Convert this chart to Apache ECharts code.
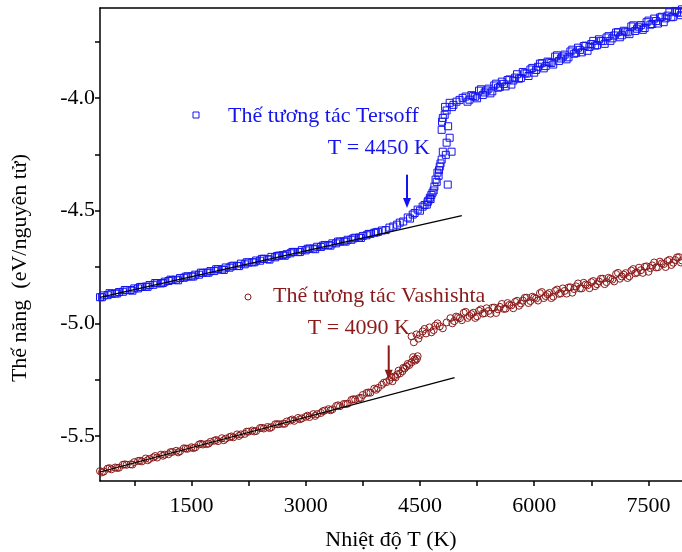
<!DOCTYPE html>
<html>
<head>
<meta charset="utf-8">
<script src="https://cdn.jsdelivr.net/npm/echarts@6/dist/echarts.min.js"></script>
<style>
  html, body { margin: 0; padding: 0; background: #fff; }
  #chart { width: 682px; height: 552px; }
</style>
</head>
<body>
<div id="chart"></div>
<script>
// Thế năng theo nhiệt độ: [T (K), E (eV/nguyên tử)]
const tersoffData = [
  [300, -4.884], [350, -4.876], [400, -4.875], [450, -4.869], [500, -4.868], [550, -4.861],
  [600, -4.860], [650, -4.853], [700, -4.852], [750, -4.845], [800, -4.845], [850, -4.838],
  [900, -4.837], [950, -4.830], [1000, -4.829], [1050, -4.822], [1100, -4.823], [1150, -4.815],
  [1200, -4.812], [1250, -4.808], [1300, -4.806], [1350, -4.799], [1400, -4.798], [1450, -4.791],
  [1500, -4.792], [1550, -4.784], [1600, -4.784], [1650, -4.776], [1700, -4.775], [1750, -4.768],
  [1800, -4.768], [1850, -4.760], [1900, -4.761], [1950, -4.752], [2000, -4.753], [2050, -4.744],
  [2100, -4.745], [2150, -4.735], [2200, -4.738], [2250, -4.730], [2300, -4.729], [2350, -4.721],
  [2400, -4.722], [2450, -4.713], [2500, -4.715], [2550, -4.705], [2600, -4.707], [2650, -4.699],
  [2700, -4.697], [2750, -4.693], [2800, -4.689], [2850, -4.683], [2900, -4.684], [2950, -4.675],
  [3000, -4.676], [3050, -4.668], [3100, -4.668], [3150, -4.660], [3200, -4.661], [3250, -4.652],
  [3300, -4.653], [3350, -4.645], [3400, -4.645], [3450, -4.637], [3500, -4.636], [3550, -4.629],
  [3600, -4.629], [3650, -4.620], [3700, -4.619], [3750, -4.612], [3800, -4.609], [3850, -4.603],
  [3900, -4.598], [3950, -4.594], [4000, -4.588],
  [325, -4.884], [425, -4.866], [525, -4.867], [625, -4.852], [725, -4.855], [825, -4.839],
  [925, -4.838], [1025, -4.821], [1125, -4.821], [1225, -4.806], [1325, -4.809], [1425, -4.793],
  [1525, -4.792], [1625, -4.775], [1725, -4.775], [1825, -4.760], [1925, -4.763], [2025, -4.747],
  [2125, -4.746], [2225, -4.729], [2325, -4.729], [2425, -4.714], [2525, -4.717], [2625, -4.701],
  [2725, -4.700], [2825, -4.683], [2925, -4.683], [3025, -4.669], [3125, -4.671], [3225, -4.655],
  [3325, -4.655], [3425, -4.637], [3525, -4.637], [3625, -4.623], [3725, -4.621], [3825, -4.603],
  [3925, -4.596],
  // vùng chuyển pha
  [4050, -4.586], [4100, -4.575], [4150, -4.570], [4200, -4.562], [4235, -4.553], [4280, -4.548],
  [4340, -4.530], [4370, -4.535], [4405, -4.517], [4430, -4.510], [4470, -4.495], [4500, -4.500],
  [4535, -4.482], [4560, -4.475], [4590, -4.473], [4600, -4.462], [4610, -4.455], [4630, -4.442],
  [4640, -4.448], [4650, -4.430], [4665, -4.420], [4680, -4.410], [4690, -4.393], [4705, -4.362],
  [4720, -4.372], [4730, -4.331], [4745, -4.345], [4750, -4.320], [4760, -4.304], [4770, -4.290],
  [4785, -4.273], [4800, -4.238], [4840, -4.252], [4865, -4.384], [4850, -4.198], [4890, -4.176],
  [4915, -4.238], [4870, -4.125], [4785, -4.141], [4790, -4.105], [4800, -4.088], [4825, -4.074],
  [4850, -4.055], [4830, -4.039], [4890, -4.021], [4920, -4.040], [4940, -4.030], [4980, -4.016],
  [5020, -4.008], [5060, -3.999],
  // pha lỏng
  [5100, -3.993], [5150, -4.007], [5200, -3.991], [5250, -4.001], [5300, -3.961], [5350, -3.975],
  [5400, -3.958], [5450, -3.970], [5500, -3.936], [5550, -3.950], [5600, -3.937], [5650, -3.920],
  [5700, -3.940], [5750, -3.909], [5800, -3.914], [5850, -3.884], [5900, -3.891], [5950, -3.873],
  [6000, -3.887], [6050, -3.861], [6100, -3.845], [6150, -3.858], [6200, -3.841], [6250, -3.851],
  [6300, -3.810], [6350, -3.824], [6400, -3.807], [6450, -3.819], [6500, -3.785], [6550, -3.799],
  [6600, -3.786], [6650, -3.769], [6700, -3.790], [6750, -3.760], [6800, -3.767], [6850, -3.739],
  [6900, -3.747], [6950, -3.731], [7000, -3.746], [7050, -3.722], [7100, -3.707], [7150, -3.721],
  [7200, -3.705], [7250, -3.716], [7300, -3.677], [7350, -3.692], [7400, -3.676], [7450, -3.689],
  [7500, -3.656], [7550, -3.671], [7600, -3.658], [7650, -3.642], [7700, -3.663], [7750, -3.634],
  [7800, -3.641], [7850, -3.613], [7900, -3.621], [7940, -3.606],
  [5125, -4.016], [5175, -3.987], [5225, -3.994], [5275, -3.967], [5325, -3.986], [5375, -3.966],
  [5425, -3.979], [5475, -3.944], [5525, -3.954], [5575, -3.927], [5625, -3.948], [5675, -3.917],
  [5725, -3.922], [5775, -3.894], [5825, -3.911], [5875, -3.890], [5925, -3.902], [5975, -3.866],
  [6025, -3.875], [6075, -3.847], [6125, -3.868], [6175, -3.838], [6225, -3.844], [6275, -3.816],
  [6325, -3.835], [6375, -3.815], [6425, -3.828], [6475, -3.793], [6525, -3.803], [6575, -3.776],
  [6625, -3.797], [6675, -3.767], [6725, -3.773], [6775, -3.746], [6825, -3.765], [6875, -3.746],
  [6925, -3.759], [6975, -3.725], [7025, -3.735], [7075, -3.709], [7125, -3.730], [7175, -3.701],
  [7225, -3.708], [7275, -3.682], [7325, -3.702], [7375, -3.683], [7425, -3.697], [7475, -3.663],
  [7525, -3.674], [7575, -3.647], [7625, -3.669], [7675, -3.639], [7725, -3.646], [7775, -3.619],
  [7825, -3.639], [7875, -3.619], [7925, -3.632]
]

const vashishtaData = [
  [300, -5.656], [350, -5.658], [400, -5.645], [450, -5.648], [500, -5.640], [550, -5.641],
  [600, -5.628], [650, -5.628], [700, -5.626], [750, -5.616], [800, -5.611], [850, -5.613],
  [900, -5.600], [950, -5.602], [1000, -5.595], [1050, -5.596], [1100, -5.583], [1150, -5.583],
  [1200, -5.581], [1250, -5.571], [1300, -5.566], [1350, -5.568], [1400, -5.555], [1450, -5.557],
  [1500, -5.550], [1550, -5.551], [1600, -5.538], [1650, -5.538], [1700, -5.536], [1750, -5.526],
  [1800, -5.521], [1850, -5.523], [1900, -5.510], [1950, -5.512], [2000, -5.505], [2050, -5.506],
  [2100, -5.493], [2150, -5.493], [2200, -5.491], [2250, -5.481], [2300, -5.476], [2350, -5.478],
  [2400, -5.465], [2450, -5.467], [2500, -5.460], [2550, -5.461], [2600, -5.448], [2650, -5.448],
  [2700, -5.446], [2750, -5.436], [2800, -5.431], [2850, -5.433], [2900, -5.420], [2950, -5.422],
  [3000, -5.415], [3050, -5.416], [3100, -5.403], [3150, -5.403], [3200, -5.398], [3250, -5.387],
  [3300, -5.381], [3350, -5.382], [3400, -5.367], [3450, -5.368], [3500, -5.358], [3550, -5.357],
  [3600, -5.340], [3650, -5.338], [3700, -5.332], [3750, -5.318], [3800, -5.309], [3850, -5.308],
  [3900, -5.290], [3950, -5.287], [4000, -5.273],
  [325, -5.662], [425, -5.643], [525, -5.642], [625, -5.626], [725, -5.627], [825, -5.610],
  [925, -5.608], [1025, -5.589], [1125, -5.588], [1225, -5.572], [1325, -5.573], [1425, -5.556],
  [1525, -5.554], [1625, -5.535], [1725, -5.534], [1825, -5.518], [1925, -5.519], [2025, -5.502],
  [2125, -5.500], [2225, -5.481], [2325, -5.480], [2425, -5.464], [2525, -5.465], [2625, -5.448],
  [2725, -5.446], [2825, -5.427], [2925, -5.426], [3025, -5.410], [3125, -5.411], [3225, -5.390],
  [3325, -5.386], [3425, -5.364], [3525, -5.358], [3625, -5.337], [3725, -5.331], [3825, -5.307],
  [3925, -5.295], [4025, -5.264],
  // vùng chuyển pha
  [4060, -5.261], [4100, -5.252], [4120, -5.240], [4140, -5.257], [4160, -5.236], [4180, -5.240],
  [4205, -5.226], [4220, -5.210], [4240, -5.222], [4270, -5.213], [4280, -5.198], [4300, -5.200],
  [4325, -5.191], [4340, -5.180], [4360, -5.185], [4390, -5.173], [4410, -5.150], [4430, -5.160],
  [4440, -5.165], [4460, -5.158], [4470, -5.146],
  [4390, -5.058], [4420, -5.084], [4455, -5.049], [4480, -5.068], [4500, -5.052], [4535, -5.036],
  [4560, -5.025], [4580, -5.045], [4625, -5.018], [4650, -5.040], [4680, -5.030], [4700, -5.010],
  [4730, -5.000], [4760, -5.013], [4800, -5.022], [4850, -4.996],
  // pha lỏng
  [4900, -4.977], [4950, -4.990], [5000, -4.973], [5050, -4.986], [5100, -4.949], [5150, -4.967],
  [5200, -4.953], [5250, -4.969], [5300, -4.938], [5350, -4.955], [5400, -4.945], [5450, -4.931],
  [5500, -4.954], [5550, -4.927], [5600, -4.936], [5650, -4.910], [5700, -4.920], [5750, -4.905],
  [5800, -4.922], [5850, -4.899], [5900, -4.886], [5950, -4.901], [6000, -4.886], [6050, -4.899],
  [6100, -4.861], [6150, -4.879], [6200, -4.865], [6250, -4.881], [6300, -4.850], [6350, -4.867],
  [6400, -4.856], [6450, -4.841], [6500, -4.864], [6550, -4.836], [6600, -4.845], [6650, -4.820],
  [6700, -4.831], [6750, -4.817], [6800, -4.835], [6850, -4.814], [6900, -4.802], [6950, -4.817],
  [7000, -4.802], [7050, -4.814], [7100, -4.776], [7150, -4.792], [7200, -4.777], [7250, -4.791],
  [7300, -4.759], [7350, -4.775], [7400, -4.764], [7450, -4.749], [7500, -4.771], [7550, -4.743],
  [7600, -4.752], [7650, -4.726], [7700, -4.737], [7750, -4.723], [7800, -4.741], [7850, -4.719],
  [7900, -4.706], [7940, -4.721],
  [4925, -5.000], [4975, -4.970], [5025, -4.977], [5075, -4.953], [5125, -4.976], [5175, -4.959],
  [5225, -4.976], [5275, -4.944], [5325, -4.957], [5375, -4.933], [5425, -4.957], [5475, -4.930],
  [5525, -4.938], [5575, -4.914], [5625, -4.935], [5675, -4.918], [5725, -4.933], [5775, -4.900],
  [5825, -4.912], [5875, -4.887], [5925, -4.910], [5975, -4.882], [6025, -4.890], [6075, -4.866],
  [6125, -4.888], [6175, -4.871], [6225, -4.888], [6275, -4.856], [6325, -4.869], [6375, -4.845],
  [6425, -4.868], [6475, -4.840], [6525, -4.848], [6575, -4.823], [6625, -4.845], [6675, -4.828],
  [6725, -4.844], [6775, -4.812], [6825, -4.826], [6875, -4.802], [6925, -4.826], [6975, -4.798],
  [7025, -4.806], [7075, -4.781], [7125, -4.802], [7175, -4.784], [7225, -4.799], [7275, -4.766],
  [7325, -4.778], [7375, -4.753], [7425, -4.776], [7475, -4.747], [7525, -4.755], [7575, -4.730],
  [7625, -4.751], [7675, -4.734], [7725, -4.750], [7775, -4.718], [7825, -4.731], [7875, -4.707],
  [7925, -4.730]
]

// đường khớp tuyến tính pha rắn
const tersoffFit = [[300, -4.885], [5050, -4.522]]
const vashishtaFit = [[300, -5.660], [4955, -5.241]]

// mũi tên chỉ nhiệt độ nóng chảy: [điểm đầu, mũi nhọn]
const tersoffArrow = [[4330, -4.340], [4330, -4.488]]
const vashishtaArrow = [[4090, -5.098], [4090, -5.250]]

const xLabels = [1500, 3000, 4500, 6000, 7500]
const xTicks = [750, 1500, 2250, 3000, 3750, 4500, 5250, 6000, 6750, 7500]
const yLabels = [-5.5, -5.0, -4.5, -4.0]
const yTicks = [-5.5, -5.25, -5.0, -4.75, -4.5, -4.25, -4.0, -3.75]

const BLUE = '#1414f0'
const RED = '#8b1a1a'
const FONT = 'Liberation Serif'

const chart = echarts.init(document.getElementById('chart'))

const axisLine = { show: true, onZero: false, lineStyle: { color: '#000', width: 1.5 } }
const labelStyle = { color: '#000', fontFamily: FONT, fontSize: 22 }

chart.setOption({
  animation: false,
  backgroundColor: '#fff',
  grid: { left: 100, right: 0, top: 8, bottom: 71, outerBoundsMode: 'none', containLabel: false },
  xAxis: [
    {
      type: 'value',
      min: 300,
      max: 7940,
      axisLine,
      splitLine: { show: false },
      name: 'Nhiệt độ T (K)',
      nameLocation: 'middle',
      nameGap: 48,
      nameTextStyle: { color: '#000', fontFamily: FONT, fontSize: 22 },
      axisTick: { show: true, inside: false, length: 5, customValues: xTicks, lineStyle: { color: '#000', width: 1.5 } },
      axisLabel: { ...labelStyle, margin: 14, customValues: xLabels, formatter: v => String(v) }
    },
    {
      type: 'value',
      position: 'top',
      min: 300,
      max: 7940,
      axisLine,
      axisTick: { show: false },
      axisLabel: { show: false },
      splitLine: { show: false }
    }
  ],
  yAxis: {
    type: 'value',
    min: -5.7,
    max: -3.6,
    axisLine,
    splitLine: { show: false },
    axisTick: { show: true, inside: false, length: 5, customValues: yTicks, lineStyle: { color: '#000', width: 1.5 } },
    axisLabel: { ...labelStyle, margin: 5, customValues: yLabels, formatter: v => v.toFixed(1) }
  },
  series: [
    {
      name: 'Thế tương tác Tersoff',
      type: 'scatter',
      data: tersoffData,
      symbol: 'rect',
      symbolSize: 7,
      itemStyle: { color: 'rgba(255,255,255,0)', borderColor: BLUE, borderWidth: 1, opacity: 1 }
    },
    {
      name: 'Thế tương tác Vashishta',
      type: 'scatter',
      data: vashishtaData,
      symbol: 'circle',
      symbolSize: 7,
      itemStyle: { color: 'rgba(255,255,255,0)', borderColor: RED, borderWidth: 1, opacity: 1 }
    },
    {
      type: 'line',
      data: tersoffFit,
      symbol: 'none',
      z: 5,
      lineStyle: { color: '#000', width: 1.2 }
    },
    {
      type: 'line',
      data: vashishtaFit,
      symbol: 'none',
      z: 5,
      lineStyle: { color: '#000', width: 1.2 }
    }
  ],
  graphic: [
    {
      type: 'text', x: 20, y: 268, rotation: Math.PI / 2,
      style: { text: 'Thế năng  (eV/nguyên tử)', fill: '#000', font: `22px "${FONT}"`, align: 'center', verticalAlign: 'middle' }
    },
    {
      type: 'rect', x: 193, y: 112,
      shape: { width: 6, height: 6 },
      style: { fill: 'none', stroke: BLUE, lineWidth: 1 }
    },
    {
      type: 'text', x: 228, y: 116,
      style: { text: 'Thế tương tác Tersoff', fill: BLUE, font: `22px "${FONT}"`, verticalAlign: 'middle' }
    },
    {
      type: 'text', x: 430, y: 148,
      style: { text: 'T = 4450 K', fill: BLUE, font: `22px "${FONT}"`, align: 'right', verticalAlign: 'middle' }
    },
    {
      type: 'circle', x: 248, y: 297,
      shape: { r: 3 },
      style: { fill: 'none', stroke: RED, lineWidth: 1 }
    },
    {
      type: 'text', x: 273, y: 296,
      style: { text: 'Thế tương tác Vashishta', fill: RED, font: `22px "${FONT}"`, verticalAlign: 'middle' }
    },
    {
      type: 'text', x: 410, y: 328,
      style: { text: 'T = 4090 K', fill: RED, font: `22px "${FONT}"`, align: 'right', verticalAlign: 'middle' }
    }
  ]
})

// vẽ mũi tên theo toạ độ dữ liệu
const arrowGraphic = (pts, color) => {
  const a = chart.convertToPixel({ gridIndex: 0 }, pts[0])
  const b = chart.convertToPixel({ gridIndex: 0 }, pts[1])
  return [
    {
      type: 'line', z: 10,
      shape: { x1: a[0], y1: a[1], x2: b[0], y2: b[1] - 8 },
      style: { stroke: color, lineWidth: 2 }
    },
    {
      type: 'polygon', z: 10,
      shape: { points: [[b[0], b[1]], [b[0] - 4, b[1] - 10], [b[0] + 4, b[1] - 10]] },
      style: { fill: color }
    }
  ]
}

const opt = chart.getOption()
chart.setOption({
  graphic: opt.graphic[0].elements.concat(
    arrowGraphic(tersoffArrow, BLUE),
    arrowGraphic(vashishtaArrow, RED)
  )
})
</script>
</body>
</html>
